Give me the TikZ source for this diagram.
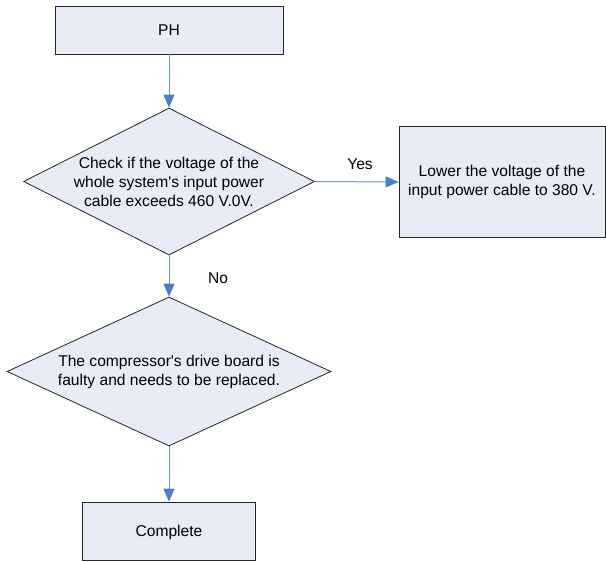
\documentclass[tikz,border=0pt]{standalone}
\usepackage{fontspec}
\setmainfont{Liberation Sans}
\usetikzlibrary{shapes.geometric,arrows.meta}
\definecolor{boxfill}{HTML}{E8ECF7}
\definecolor{arrowblue}{HTML}{4A7EC6}
\definecolor{linecol}{HTML}{6F9AD6}
\begin{document}
\begin{tikzpicture}[x=1pt,y=-1pt,
  box/.style={draw=black!85,line width=0.8pt,fill=boxfill,inner sep=0pt},
  dia/.style={draw=black!85,line width=0.8pt,fill=boxfill,diamond,inner sep=0pt},
  txt/.style={font=\fontsize{15.6}{19}\selectfont,align=center,inner sep=0pt},
  lbl/.style={font=\fontsize{15.6}{19}\selectfont,inner sep=0pt},
  conn/.style={draw=linecol,line width=1pt,-{Triangle[length=13pt,width=11pt,color=arrowblue]}}]
\useasboundingbox (0,0) rectangle (606,562);
\node[box,minimum width=228pt,minimum height=48pt] (ph) at (169,30) {};
\node[txt] (pht) at (169,30) {PH};
\node[dia,minimum width=291pt,minimum height=147pt] (d1) at (169,181.5) {};
\node[txt] (d1t) at (169,181.5) {Check if the voltage of the\\whole system\textquotesingle s input power\\cable exceeds 460 V.0V.};
\node[box,minimum width=206pt,minimum height=111pt] (lo) at (502,182) {};
\node[txt] (lot) at (502,181.5) {Lower the voltage of the\\input power cable to 380 V.};
\node[dia,minimum width=324pt,minimum height=149pt] (d2) at (169,371.5) {};
\node[txt] (d2t) at (169,371.5) {The compressor\textquotesingle s drive board is\\faulty and needs to be replaced.};
\node[box,minimum width=173pt,minimum height=58pt] (cp) at (169,531) {};
\node[txt] (cpt) at (169,532) {Complete};
\draw[conn] (ph.south) -- (d1.north);
\draw[conn] (d1.east) -- (lo.west);
\node[lbl] (yes) at (360,164) {Yes};
\draw[conn] (d1.south) -- (d2.north);
\node[lbl] (no) at (218,278) {No};
\draw[conn] (d2.south) -- (cp.north);
\end{tikzpicture}
\end{document}
